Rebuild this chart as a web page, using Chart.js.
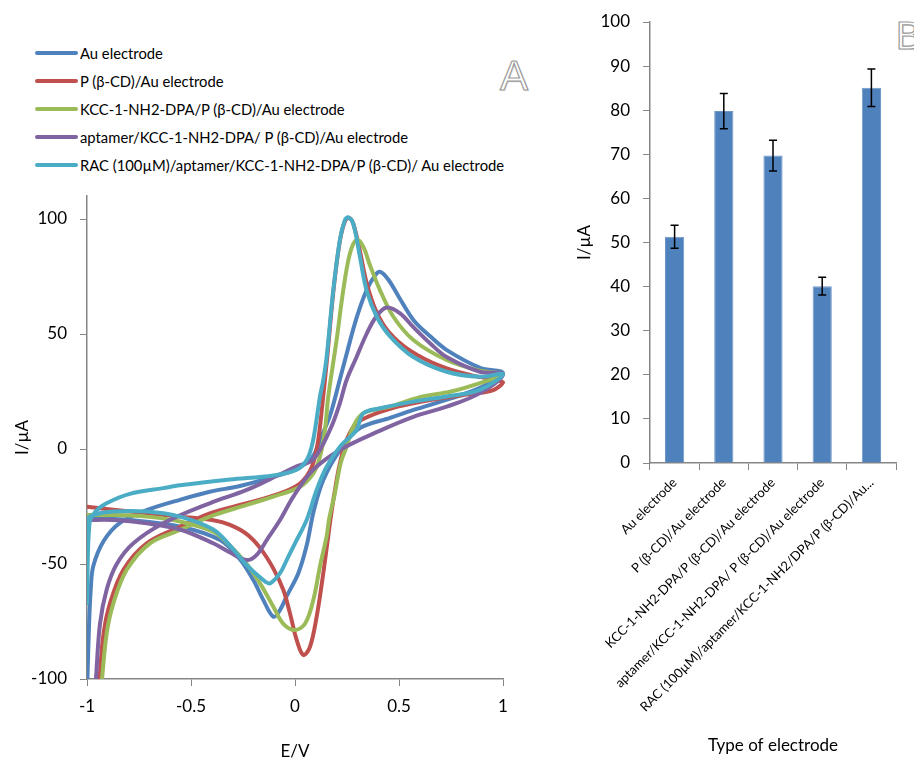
<!DOCTYPE html>
<html>
<head>
<meta charset="utf-8">
<script src="https://cdn.jsdelivr.net/npm/chart.js@4"></script>
<style>
  html, body { margin: 0; padding: 0; background: #fff; }
  body { width: 914px; height: 760px; overflow: hidden; position: relative; font-family: Lato, "Open Sans", sans-serif; }
  #cvChart { position: absolute; left: 0; top: 185px; }
  #barChart { position: absolute; left: 540px; top: 0; }
  #legend { position: absolute; left: 35px; top: 39px; }
  .leg-item { height: 28.1px; display: flex; align-items: center; font-size: 14.8px; color: #000; white-space: nowrap; }
  .leg-line { width: 43px; height: 4px; border-radius: 2px; margin-right: 2px; }
  .panel-tag { position: absolute; font-family: "Liberation Sans", Arial, sans-serif; color: #fff;
               -webkit-text-stroke: 1.2px #9a9a9a; text-shadow: 1px 1px 1px #ddd; line-height: 1; }
</style>
</head>
<body>
<div id="legend"></div>
<div class="panel-tag" style="left:500px; top:55px; font-size:42px;">A</div>
<div class="panel-tag" style="left:896px; top:17px; font-size:38px;">B</div>
<canvas id="cvChart" width="540" height="575"></canvas>
<canvas id="barChart" width="374" height="760"></canvas>
<script>
// ---- panel A: cyclic voltammograms (forward scan then reverse scan) ----
const seriesNames = [
  "Au electrode",
  "P (β-CD)/Au electrode",
  "KCC-1-NH2-DPA/P (β-CD)/Au electrode",
  "aptamer/KCC-1-NH2-DPA/ P (β-CD)/Au electrode",
  "RAC (100µM)/aptamer/KCC-1-NH2-DPA/P (β-CD)/ Au electrode"
];
const seriesColors = ["#4F81BD", "#C0504D", "#9BBB59", "#8064A2", "#4BACC6"];

const auE = [-0.998, -0.99, -0.982, -0.97, -0.92, -0.84, -0.71, -0.55, -0.41, -0.26, -0.1, 0, 0.08, 0.13, 0.17, 0.215, 0.25, 0.296, 0.344, 0.385, 0.41, 0.45, 0.5, 0.57, 0.65, 0.73, 0.89, 1,
             0.9, 0.75, 0.57, 0.457, 0.31, 0.216, 0.136, 0.09, 0.056, 0.016, -0.04, -0.072, -0.104, -0.152, -0.2, -0.264, -0.36, -0.55, -0.79, -1];
const auI = [-100, -76, -61, -51, -40, -32, -26.5, -22, -18.6, -16, -12, -9, -4, 6, 15, 30, 42, 57, 69, 75.5, 77, 73.5, 66, 56, 49, 43, 35.3, 33,
             27, 22, 17, 13.5, 9, -0.5, -13.5, -27, -42, -54, -64, -70, -72.9, -65.7, -57, -48, -39.6, -33.8, -30.9, -30];

const pcdE = [-0.94, -0.92, -0.889, -0.825, -0.713, -0.553, -0.409, -0.232, -0.072, 0.024, 0.08, 0.11, 0.13, 0.155, 0.185, 0.215, 0.24, 0.26, 0.28, 0.31, 0.345, 0.39, 0.45, 0.55, 0.7, 0.85, 1,
              0.95, 0.85, 0.7, 0.55, 0.457, 0.377, 0.296, 0.248, 0.216, 0.19, 0.168, 0.136, 0.104, 0.072, 0.04, 0.008, -0.024, -0.056, -0.104, -0.168, -0.232, -0.3125, -0.393, -0.553, -0.793, -1];
const pcdI = [-100, -80, -67, -52.5, -41, -33.8, -28, -23.6, -19.3, -15, -8, 3, 18, 40, 69, 90, 99, 100.5, 98, 87, 72, 60, 51, 43, 36, 32, 29,
              25.5, 24, 22, 19.5, 17.5, 15, 11.2, 3.9, -6.2, -19, -32.3, -54, -73, -86, -89.6, -83, -71.5, -61.3, -52, -43, -37, -33, -31, -29.4, -27.2, -25.1];

const kccE = [-0.928, -0.905, -0.873, -0.809, -0.697, -0.553, -0.409, -0.232, -0.104, 0.024, 0.088, 0.12, 0.144, 0.16, 0.2, 0.232, 0.264, 0.296, 0.328, 0.36, 0.409, 0.473, 0.569, 0.729, 0.889, 1,
              0.9, 0.75, 0.6, 0.457, 0.328, 0.28, 0.248, 0.22, 0.19, 0.165, 0.152, 0.12, 0.088, 0.048, 0, -0.056, -0.104, -0.168, -0.232, -0.3125, -0.393, -0.553, -0.713, -0.873, -1];
const kccI = [-100, -80, -67, -52.5, -41, -35.2, -29.4, -24.3, -20.7, -16.4, -10.6, -3.4, 8.3, 22.8, 47.4, 69, 85, 91, 88, 80, 69, 57.5, 47.4, 38.7, 34, 32.5,
              29, 25, 22.5, 18.4, 15.5, 9.7, 1, -6, -20, -30, -38, -51, -65.7, -76, -78.7, -76, -68.6, -58.4, -50, -42, -36, -31.5, -29.4, -28.7, -28.7];

const aptE = [-0.957, -0.9375, -0.905, -0.857, -0.777, -0.633, -0.41, -0.232, -0.072, 0.008, 0.088, 0.168, 0.216, 0.248, 0.296, 0.344, 0.39, 0.44, 0.505, 0.569, 0.649, 0.729, 0.889, 1,
              0.889, 0.729, 0.569, 0.409, 0.216, 0.088, -0.008, -0.072, -0.136, -0.184, -0.232, -0.3125, -0.393, -0.553, -0.713, -0.873, -1];
const aptI = [-100, -76, -61, -50, -41, -32.3, -23.6, -17.8, -11, -7.5, -4.5, 8.3, 20, 30, 40, 50, 57.5, 61.5, 59, 53, 46, 40, 33.6, 32.5,
              24.3, 18.4, 14, 8, -0.4, -9, -20.7, -30.9, -39.6, -46, -48.3, -45, -41, -35, -32.3, -30.9, -30.9];

const racE = [-1, -0.988, -0.96, -0.906, -0.794, -0.633, -0.553, -0.3125, -0.104, 0.008, 0.056, 0.08, 0.096, 0.12, 0.136, 0.152, 0.184, 0.216, 0.24, 0.256, 0.28, 0.312, 0.344, 0.393, 0.457, 0.569, 0.729, 0.889, 1,
              0.889, 0.729, 0.569, 0.409, 0.328, 0.296, 0.216, 0.152, 0.104, 0.056, 0, -0.04, -0.072, -0.12, -0.152, -0.232, -0.3125, -0.393, -0.553, -0.713, -0.873, -0.97, -0.997, -1];
const racI = [-67, -32.3, -27.3, -23.6, -19.5, -17, -15.8, -13.3, -11.5, -9, -4.8, 1, 8.3, 22.8, 30, 40, 69, 91, 99.5, 100.7, 98, 83.6, 69, 57.5, 49, 40, 33.6, 31.4, 32.5,
              25.7, 22.8, 20.6, 17.7, 15.5, 8.3, 1, -7.7, -17.8, -30.9, -41, -48.3, -54, -58.4, -57, -50.5, -42, -35, -29.4, -27.2, -27.2, -28.7, -30.9, -67];

const cvTicksX = [-1, -0.5, 0, 0.5, 1];
const cvTicksY = [-100, -50, 0, 50, 100];

// ---- panel B: peak current per electrode ----
const barLabels = [
  "Au electrode",
  "P (β-CD)/Au electrode",
  "KCC-1-NH2-DPA/P (β-CD)/Au electrode",
  "aptamer/KCC-1-NH2-DPA/ P (β-CD)/Au electrode",
  "RAC (100µM)/aptamer/KCC-1-NH2/DPA/P (β-CD)/Au..."
];
const barValues = [51.3, 79.8, 69.7, 40.1, 85.1];
const barErrors = [2.6, 4.0, 3.5, 2.0, 4.25];

const FONT = "Lato";
const AXIS_GREY = "#868686";

// legend for panel A
const legendBox = document.getElementById("legend");
seriesNames.forEach((name, i) => {
  const row = document.createElement("div");
  row.className = "leg-item";
  row.innerHTML = `<span class="leg-line" style="background:${seriesColors[i]}"></span><span></span>`;
  row.lastChild.textContent = name;
  legendBox.appendChild(row);
});

function toPoints(es, is) {
  return es.map((e, k) => ({ x: e, y: is[k] }));
}

const cvSets = [[auE, auI], [pcdE, pcdI], [kccE, kccI], [aptE, aptI], [racE, racI]];

new Chart(document.getElementById("cvChart"), {
  type: "scatter",
  data: {
    datasets: cvSets.map(([es, is], i) => ({
      label: seriesNames[i],
      data: toPoints(es, is),
      showLine: true,
      borderColor: seriesColors[i],
      backgroundColor: seriesColors[i],
      borderWidth: 4,
      pointRadius: 0,
      tension: 0.35,
      borderCapStyle: "round",
      borderJoinStyle: "round",
      order: cvSets.length - i,   // last series on top, like the original
      clip: { left: 0, bottom: 0, right: 4, top: 4 },
    })),
  },
  options: {
    responsive: false,
    animation: false,
    layout: { padding: { left: 0, top: 11, right: 37, bottom: 0 } },
    plugins: { legend: { display: false }, tooltip: { enabled: false } },
    scales: {
      x: {
        type: "linear",
        min: -1, max: 1,
        afterBuildTicks: (s) => { s.ticks = cvTicksX.map(v => ({ value: v })); },
        afterFit: (s) => { s.height = 81; },
        ticks: { callback: (v) => `${v}`, color: "#000", font: { family: FONT, size: 17 }, padding: 10, maxRotation: 0 },
        grid: { drawOnChartArea: false, drawTicks: true, tickLength: 7, tickColor: AXIS_GREY },
        border: { color: AXIS_GREY, width: 1.5 },
        title: { display: true, text: "E/V", color: "#000", font: { family: FONT, size: 17, lineHeight: 1 }, padding: { top: 0, bottom: 0 } },
      },
      y: {
        type: "linear",
        min: -100, max: 110,
        afterBuildTicks: (s) => { s.ticks = cvTicksY.map(v => ({ value: v })); },
        afterFit: (s) => { s.width = 87; s.paddingTop = 0; s.paddingBottom = 0; },
        ticks: { callback: (v) => `${v}`, color: "#000", font: { family: FONT, size: 17 }, padding: 13 },
        grid: { drawOnChartArea: false, drawTicks: true, tickLength: 7, tickColor: AXIS_GREY },
        border: { color: AXIS_GREY, width: 1.5 },
        title: { display: true, text: "I/µA", color: "#000", font: { family: FONT, size: 17, lineHeight: 1 }, padding: { top: 14, bottom: 0 } },
      },
    },
  },
});

// error bars drawn on top of the bars
const errorBars = {
  id: "errorBars",
  afterDatasetsDraw(chart) {
    const { ctx, scales: { x, y } } = chart;
    ctx.save();
    ctx.strokeStyle = "#000";
    ctx.lineWidth = 1.5;
    barValues.forEach((v, i) => {
      const px = x.getPixelForValue(i);
      const hi = y.getPixelForValue(v + barErrors[i]);
      const lo = y.getPixelForValue(v - barErrors[i]);
      ctx.beginPath();
      ctx.moveTo(px, hi); ctx.lineTo(px, lo);
      ctx.moveTo(px - 4, hi); ctx.lineTo(px + 4, hi);
      ctx.moveTo(px - 4, lo); ctx.lineTo(px + 4, lo);
      ctx.stroke();
    });
    ctx.restore();
  },
};

new Chart(document.getElementById("barChart"), {
  type: "bar",
  data: {
    labels: barLabels,
    datasets: [{
      data: barValues,
      backgroundColor: "#4F81BD",
      borderColor: "#6f97c8",
      borderWidth: 1,
      barPercentage: 0.39,
      categoryPercentage: 1,
    }],
  },
  options: {
    responsive: false,
    animation: false,
    layout: { padding: { left: 0, top: 22, right: 18, bottom: 0 } },
    plugins: { legend: { display: false }, tooltip: { enabled: false } },
    scales: {
      x: {
        afterFit: (s) => { s.height = 297; },
        ticks: { color: "#000", font: { family: FONT, size: 13 }, minRotation: 45, maxRotation: 45, autoSkip: false, padding: 5 },
        grid: { offset: true, drawOnChartArea: false, drawTicks: true, tickLength: 7, tickColor: AXIS_GREY },
        border: { color: AXIS_GREY, width: 1.5 },
        title: { display: true, text: "Type of electrode", color: "#000", font: { family: FONT, size: 17, lineHeight: 1 }, padding: { top: 0, bottom: 6 } },
      },
      y: {
        min: 0, max: 100,
        ticks: { stepSize: 10, color: "#000", font: { family: FONT, size: 17 }, padding: 13 },
        afterFit: (s) => { s.width = 110; s.paddingTop = 0; s.paddingBottom = 0; },
        grid: { drawOnChartArea: false, drawTicks: true, tickLength: 7, tickColor: AXIS_GREY },
        border: { color: AXIS_GREY, width: 1.5 },
        title: { display: true, text: "I/µA", color: "#000", font: { family: FONT, size: 17, lineHeight: 1 }, padding: { top: 36, bottom: 0 } },
      },
    },
  },
  plugins: [errorBars],
});
</script>
</body>
</html>
